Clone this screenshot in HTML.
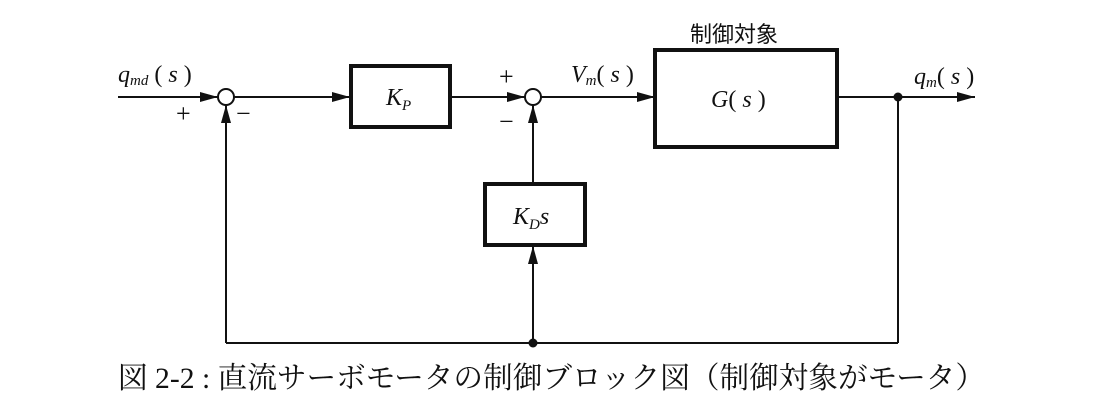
<!DOCTYPE html>
<html><head><meta charset="utf-8"><style>
html,body{margin:0;padding:0;background:#fff;}
svg{display:block;}
text{font-family:"Liberation Serif","Noto Serif CJK JP",serif;fill:#111;}
</style></head><body>
<svg width="1098" height="420" viewBox="0 0 1098 420" xmlns="http://www.w3.org/2000/svg">
<defs>
<marker id="a" markerWidth="10" markerHeight="8" refX="10" refY="4" orient="auto" markerUnits="userSpaceOnUse">
<path d="M0,0 L10,4 L0,8 Z" fill="#111"/></marker>
<marker id="b" markerWidth="18" markerHeight="10" refX="18" refY="5" orient="auto" markerUnits="userSpaceOnUse">
<path d="M0,0 L18,5 L0,10 Z" fill="#111"/></marker>
</defs>
<g stroke="#111" stroke-width="2" fill="none">
<line x1="118" y1="97" x2="218" y2="97" marker-end="url(#b)"/>
<circle cx="226" cy="97" r="8"/>
<line x1="234" y1="97" x2="350" y2="97" marker-end="url(#b)"/>
<rect x="351" y="66" width="99" height="61" stroke-width="4"/>
<line x1="450" y1="97" x2="525" y2="97" marker-end="url(#b)"/>
<circle cx="533" cy="97" r="8"/>
<line x1="541" y1="97" x2="655" y2="97" marker-end="url(#b)"/>
<rect x="655" y="50" width="182" height="97" stroke-width="4"/>
<line x1="837" y1="97" x2="975" y2="97" marker-end="url(#b)"/>
<line x1="898" y1="97" x2="898" y2="343"/>
<line x1="898" y1="343" x2="226" y2="343"/>
<line x1="226" y1="343" x2="226" y2="105" marker-end="url(#b)"/>
<line x1="533" y1="343" x2="533" y2="246" marker-end="url(#b)"/>
<rect x="485" y="184" width="100" height="61" stroke-width="4"/>
<line x1="533" y1="184" x2="533" y2="105" marker-end="url(#b)"/>
</g>
<circle cx="898" cy="97" r="4.5" fill="#111"/>
<circle cx="533" cy="343" r="4.5" fill="#111"/>
<g font-size="24" font-style="italic">
<text x="118" y="82">q<tspan font-size="15" dy="3">md</tspan><tspan dy="-3" font-style="normal"> ( </tspan>s<tspan font-style="normal"> )</tspan></text>
<text x="386" y="105">K<tspan font-size="15" dy="5">P</tspan></text>
<text x="513" y="224">K<tspan font-size="15" dy="5">D</tspan><tspan dy="-5">s</tspan></text>
<text x="571" y="82">V<tspan font-size="15" dy="3">m</tspan><tspan dy="-3" font-style="normal">( </tspan>s<tspan font-style="normal"> )</tspan></text>
<text x="711" y="107">G<tspan font-style="normal">( </tspan>s<tspan font-style="normal"> )</tspan></text>
<text x="914" y="84">q<tspan font-size="15" dy="3">m</tspan><tspan dy="-3" font-style="normal">( </tspan>s<tspan font-style="normal"> )</tspan></text>
</g>
<g font-size="26">
<text x="176" y="122">+</text>
<text x="236" y="122">−</text>
<text x="499" y="85">+</text>
<text x="499" y="130">−</text>
</g>
<text x="690" y="42" font-size="22" font-family="Noto Sans CJK JP, sans-serif" style="font-family:'Noto Sans CJK JP',sans-serif">制御対象</text>
<text x="118" y="388" font-size="30" textLength="867" lengthAdjust="spacingAndGlyphs">図 2-2 : 直流サーボモータの制御ブロック図（制御対象がモータ）</text>
</svg>
</body></html>
